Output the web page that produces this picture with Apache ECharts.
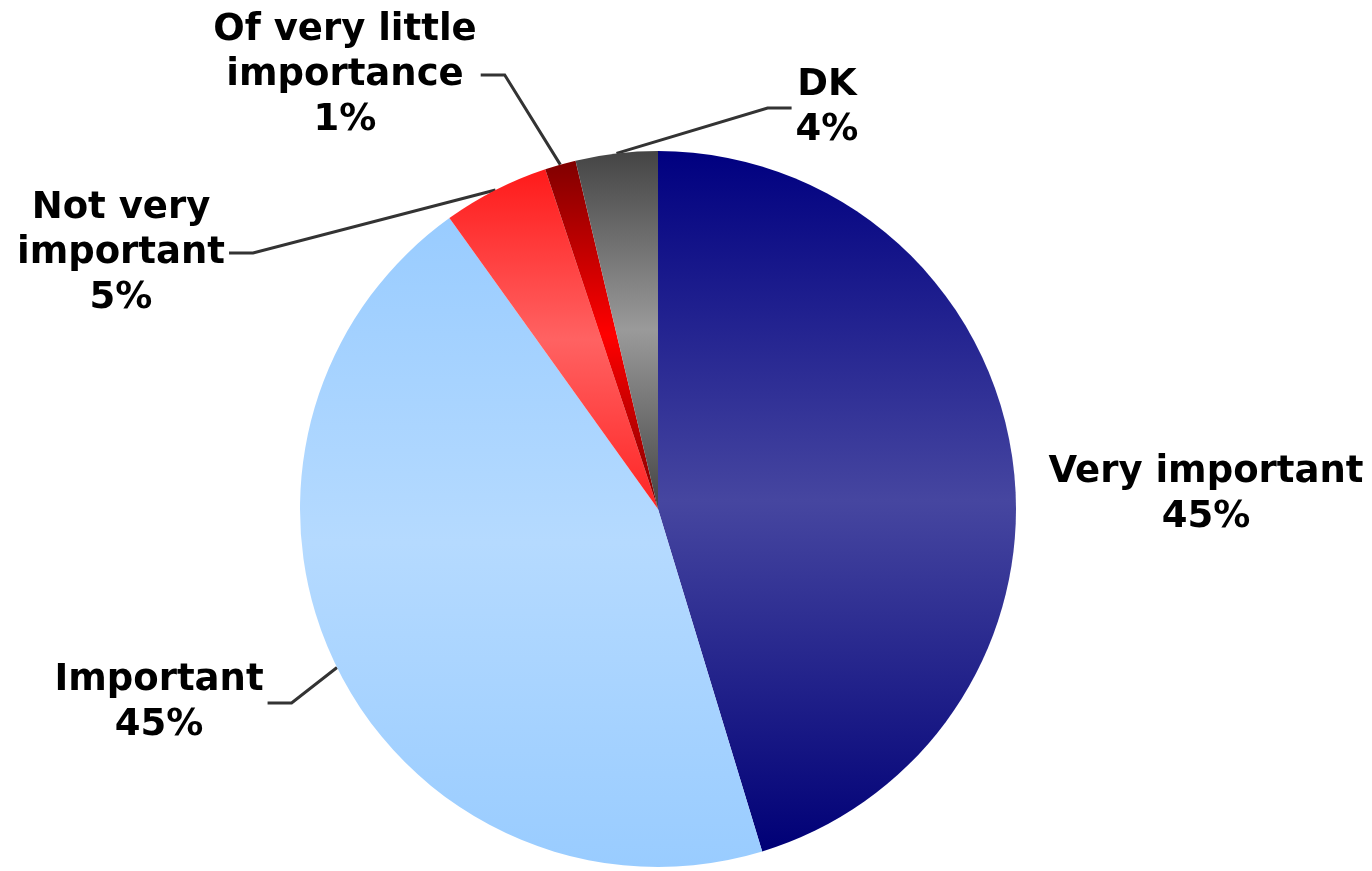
<!DOCTYPE html>
<html>
<head>
<meta charset="utf-8">
<title>Importance</title>
<script src="https://cdn.jsdelivr.net/npm/echarts@6/dist/echarts.min.js"></script>
<style>
  html, body { margin: 0; padding: 0; background: #fff; }
  #chart { width: 1372px; height: 871px; }
</style>
</head>
<body>
<div id="chart"></div>
<script>
'use strict';

var categories = ['Very important', 'Important', 'Not very important', 'Of very little importance', 'DK'];
var labelTexts = ['Very important', 'Important', 'Not very\nimportant', 'Of very little\nimportance', 'DK'];
var values = [45.3, 44.8, 4.8, 1.4, 3.7];

// dark / light / dark stops of each slice gradient
var sliceColors = [
  ['#000080', '#4646a0', '#000076'],
  ['#99ccff', '#b5daff', '#99ccff'],
  ['#ff1a1a', '#ff6262', '#ff2424'],
  ['#800000', '#ff0000', '#800000'],
  ['#444444', '#9a9a9a', '#444444']
];

// label block centres and the side where the leader line attaches
var labelSpots = [
  {x: 1206, y: 495, side: 'none'},
  {x: 159, y: 703, side: 'right'},
  {x: 121, y: 253, side: 'right'},
  {x: 345, y: 75, side: 'right'},
  {x: 827, y: 108, side: 'left'}
];

function gradient(c) {
  return new echarts.graphic.LinearGradient(0, 0, 0, 1, [
    {offset: 0, color: c[0]},
    {offset: 0.5, color: c[1]},
    {offset: 1, color: c[2]}
  ]);
}

var chart = echarts.init(document.getElementById('chart'));

var option = {
  backgroundColor: '#fff',
  animation: false,
  series: [{
    type: 'pie',
    center: [658, 509],
    radius: 358,
    startAngle: 90,
    clockwise: true,
    label: {
      show: true,
      position: 'outside',
      color: '#000',
      fontFamily: 'DejaVu Sans',
      fontWeight: 'bold',
      fontSize: 37,
      lineHeight: 45,
      align: 'center',
      overflow: 'none',
      formatter: function (p) {
        return labelTexts[p.dataIndex] + '\n' + Math.round(p.percent) + '%';
      }
    },
    labelLine: {
      show: true,
      lineStyle: {color: '#333', width: 3}
    },
    labelLayout: function (p) {
      var spot = labelSpots[p.dataIndex];
      var res = {x: spot.x, y: spot.y, align: 'center', verticalAlign: 'middle'};
      if (spot.side !== 'none' && p.labelLinePoints) {
        var half = p.labelRect.width / 2;
        var start = p.labelLinePoints[0];
        var dir = spot.side === 'right' ? 1 : -1;
        var endX = spot.x + dir * (half + 4);
        res.labelLinePoints = [
          [start[0], start[1]],
          [endX + dir * 24, spot.y],
          [endX, spot.y]
        ];
      }
      return res;
    },
    itemStyle: {borderWidth: 0},
    emphasis: {disabled: true},
    data: categories.map(function (name, i) {
      return {
        name: name,
        value: values[i],
        itemStyle: {color: gradient(sliceColors[i])},
        labelLine: {show: labelSpots[i].side !== 'none'}
      };
    })
  }]
};

chart.setOption(option);
</script>
</body>
</html>
